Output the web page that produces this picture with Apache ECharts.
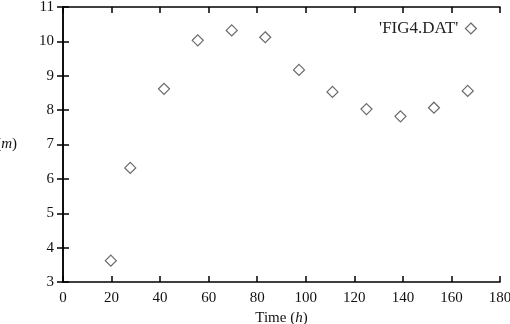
<!DOCTYPE html>
<html>
<head>
<meta charset="utf-8">
<script src="https://cdn.jsdelivr.net/npm/echarts@6/dist/echarts.min.js"></script>
<style>
html, body { margin: 0; padding: 0; background: #fff; }
#main { width: 510px; height: 324px; }
</style>
</head>
<body>
<div id="main"></div>
<script>
var timeH = [19.7, 27.7, 41.6, 55.5, 69.5, 83.3, 97.2, 111, 125, 139, 152.8, 166.7];
var values = [3.62, 6.32, 8.62, 10.03, 10.32, 10.12, 9.17, 8.53, 8.03, 7.82, 8.07, 8.56];
var seriesName = "'FIG4.DAT'";

var font = 'Liberation Serif';
var chartDom = document.getElementById('main');
var myChart = echarts.init(chartDom);
var option;

var points = timeH.map(function (t, i) { return [t, values[i]]; });

var tickIn = { show: true, inside: true, length: 6, lineStyle: { color: '#000', width: 1.5 } };

option = {
	animation: false,
	textStyle: { fontFamily: font },
	grid: { left: 63, right: 10, top: 7, bottom: 42, outerBoundsMode: 'none', containLabel: false },
	legend: {
		top: 15,
		right: 28,
		align: 'right',
		itemWidth: 11,
		itemHeight: 11,
		itemGap: 4,
		itemStyle: { color: 'transparent', borderColor: '#444', borderWidth: 1.2 },
		textStyle: { fontFamily: font, fontSize: 17, color: '#222', padding: [0, 2, 0, 0] },
		data: [seriesName]
	},
	xAxis: [{
		type: 'value',
		min: 0, max: 180, interval: 20,
		position: 'bottom',
		name: 'Time ({i|h})',
		nameLocation: 'middle',
		nameGap: 25,
		nameTextStyle: {
			fontFamily: font, fontSize: 15, color: '#111',
			rich: { i: { fontFamily: font, fontStyle: 'italic', fontSize: 15, color: '#111' } }
		},
		axisLine: { show: true, lineStyle: { color: '#000', width: 1.5 } },
		axisTick: tickIn,
		axisLabel: { fontFamily: font, fontSize: 15, color: '#111', margin: 9 },
		splitLine: { show: false }
	}, {
		type: 'value',
		min: 0, max: 180, interval: 20,
		position: 'top',
		axisLine: { show: true, lineStyle: { color: '#000', width: 1.5 } },
		axisTick: tickIn,
		axisLabel: { show: false },
		splitLine: { show: false }
	}],
	yAxis: [{
		type: 'value',
		min: 3, max: 11, interval: 1,
		position: 'left',
		axisLine: { show: true, lineStyle: { color: '#000', width: 1.5 } },
		axisTick: tickIn,
		axisLabel: { fontFamily: font, fontSize: 15, color: '#111', margin: 9 },
		splitLine: { show: false }
	}, {
		type: 'value',
		min: 3, max: 11, interval: 1,
		position: 'right',
		axisLine: { show: true, lineStyle: { color: '#000', width: 1.5 } },
		axisTick: tickIn,
		axisLabel: { show: false },
		splitLine: { show: false }
	}],
	graphic: [{
		type: 'text',
		right: 493,
		top: 137,
		style: {
			text: 'Length ({i|m})',
			fontFamily: font, fontSize: 15, fill: '#111',
			rich: { i: { fontFamily: font, fontStyle: 'italic', fontSize: 15, fill: '#111' } }
		}
	}],
	series: [{
		name: seriesName,
		type: 'scatter',
		symbol: 'diamond',
		symbolSize: 11,
		itemStyle: { color: 'transparent', borderColor: '#444', borderWidth: 1.2 },
		data: points
	}]
};

option && myChart.setOption(option);
</script>
</body>
</html>
